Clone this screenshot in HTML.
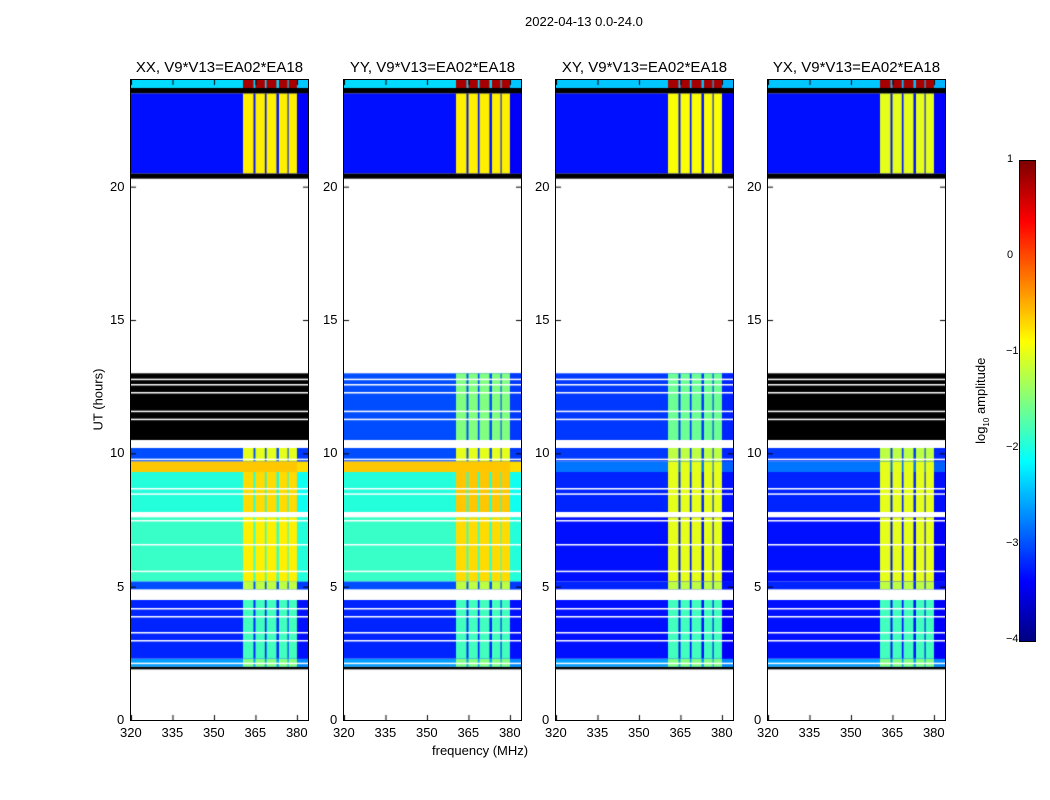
<!DOCTYPE html>
<html><head><meta charset="utf-8">
<style>
body{margin:0;background:#fff;width:1050px;height:800px;position:relative;overflow:hidden;font-family:"Liberation Sans","DejaVu Sans",sans-serif;}
.abs{position:absolute;}
canvas{position:absolute;}
.t{position:absolute;font-size:13px;color:#000;white-space:nowrap;}
.title{position:absolute;font-size:15px;white-space:nowrap;transform:translateX(-50%);}
</style></head><body>
<div class="t" style="left:525px;top:14px;">2022-04-13 0.0-24.0</div>
<div class="t" style="left:432px;top:743px;">frequency (MHz)</div>
<div class="t" style="left:60px;top:392px;transform:rotate(-90deg);transform-origin:center;width:76px;text-align:center;">UT (hours)</div>
<div id="root"></div>
<canvas id="cbar" width="15" height="480" style="left:1019px;top:160px;border:1px solid #000;"></canvas>
<div class="t" style="left:932px;top:392px;transform:rotate(-90deg);width:100px;text-align:center;">log<sub style="font-size:8px">10</sub> amplitude</div>
<script>
const panelTitles=["XX, V9*V13=EA02*EA18","YY, V9*V13=EA02*EA18","XY, V9*V13=EA02*EA18","YX, V9*V13=EA02*EA18"];
const panelLefts=[131,344,556,768];
const xTicks=[320,335,350,365,380];
const yTicks=[0,5,10,15,20];
const cbTicks=[1,0,-1,-2,-3,-4];
// time segments (hours)
const segStart=[1.9,2.0,2.3,4.5,4.9,5.2,7.6,7.8,9.3,9.7,10.2,10.5,13.0,20.3,20.5,23.5,23.7];
const segEnd  =[2.0,2.3,4.5,4.9,5.2,7.6,7.8,9.3,9.7,10.2,10.5,13.0,20.3,20.5,23.5,23.7,24.0];
// base values per panel (F = flagged black, null = no data)
const F=-99;
const baseXX=[F,-2.6,-3.2,null,-3.0,-1.85,null,-1.95,-0.6,-3.0,null,F,null,F,-3.3,F,-2.3];
const baseYY=[F,-2.6,-3.2,null,-3.0,-1.85,null,-1.95,-0.6,-3.0,null,-3.0,null,F,-3.3,F,-2.3];
const baseXY=[F,-2.6,-3.3,null,-3.2,-3.3,null,-3.2,-2.8,-3.1,null,-3.1,null,F,-3.3,F,-2.4];
const baseYX=[F,-2.6,-3.3,null,-3.2,-3.3,null,-3.2,-2.8,-3.1,null,F,null,F,-3.3,F,-2.4];
const rfiXX=[F,-1.5,-1.8,null,-1.2,-0.8,null,-0.7,-0.6,-1.0,null,F,null,F,-0.8,F,0.8];
const rfiYY=[F,-1.5,-1.8,null,-1.2,-0.7,null,-0.6,-0.6,-1.0,null,-1.5,null,F,-0.8,F,0.8];
const rfiXY=[F,-1.5,-1.8,null,-1.2,-1.0,null,-1.0,-1.0,-1.2,null,-1.6,null,F,-0.9,F,0.8];
const rfiYX=[F,-1.5,-1.8,null,-1.2,-1.0,null,-1.0,-1.0,-1.2,null,F,null,F,-1.0,F,0.8];
const baseVals=[baseXX,baseYY,baseXY,baseYX];
const rfiVals=[rfiXX,rfiYY,rfiXY,rfiYX];
// RFI frequency bands (MHz)
const bandStart=[360.5,365,369,373.5,377];
const bandEnd=[364.3,368.4,372.6,376.6,380];
// flagged (white) lines in hours
const whiteLines=[2.15,3.0,3.3,3.9,4.2,5.6,6.6,7.5,8.5,8.7,9.8,11.3,11.6,12.3,12.6,12.8,21.1,21.9,22.7,23.2,23.35];

function jet(v){let t=(v+4)/5;t=Math.max(0,Math.min(1,t));
 const r=Math.max(0,Math.min(1,1.5-Math.abs(4*t-3))),g=Math.max(0,Math.min(1,1.5-Math.abs(4*t-2))),b=Math.max(0,Math.min(1,1.5-Math.abs(4*t-1)));
 return `rgb(${Math.round(r*255)},${Math.round(g*255)},${Math.round(b*255)})`;}
const W=177,H=640,TOP=80;
const xs=f=>(f-320)/64*W, ys=h=>H-(h/24)*H;
const root=document.getElementById('root');
panelLefts.forEach((L,p)=>{
 const c=document.createElement('canvas');c.width=W;c.height=H;
 c.style.left=L+'px';c.style.top=TOP+'px';c.style.outline='1px solid #000';
 
 
 root.appendChild(c);
 const g=c.getContext('2d');g.fillStyle='#fff';g.fillRect(0,0,W,H);
 segStart.forEach((s,i)=>{
  const b=baseVals[p][i],r=rfiVals[p][i];if(b===null)return;
  const y0=ys(segEnd[i]),y1=ys(s),h=y1-y0;
  if(b===F){g.fillStyle='#000';g.fillRect(0,y0,W,h);return;}
  g.fillStyle=jet(b);g.fillRect(0,y0,W,h);
  g.fillStyle=jet(b-0.1);g.fillRect(xs(380),y0,W-xs(380),h);
  bandStart.forEach((bs,k)=>{g.fillStyle=jet(r);g.fillRect(xs(bs),y0,xs(bandEnd[k])-xs(bs),h);});
 });
 g.fillStyle='#fff';
 whiteLines.forEach(h=>{const y=ys(h);if(y<ys(20.3)||y>ys(1.9))return;g.fillRect(0,y,W,1.5);});
 g.fillStyle='#000';
 xTicks.forEach(f=>{g.fillRect(xs(f),H-5,1,5);g.fillRect(xs(f),0,1,5);});
 yTicks.forEach(h=>{g.fillRect(0,ys(h),5,1);g.fillRect(W-5,ys(h),5,1);});
 const t=document.createElement('div');t.className='title';t.textContent=panelTitles[p];
 t.style.left=(L+W/2)+'px';t.style.top='59px';
 
 
 root.appendChild(t);
 xTicks.forEach(f=>{const d=document.createElement('div');d.className='t';d.textContent=f;
  d.style.left=(L+xs(f)-11)+'px';d.style.top='725px';
  
  
  root.appendChild(d);});
 yTicks.forEach(h=>{const d=document.createElement('div');d.className='t';d.textContent=h;
  d.style.left=(L-6-(h>=10?15:8))+'px';d.style.top=(TOP+ys(h)-8)+'px';
  
  
  root.appendChild(d);});
});
const cb=document.getElementById('cbar').getContext('2d');
for(let y=0;y<480;y++){cb.fillStyle=jet(1-y/480*5);cb.fillRect(0,y,15,1);}
cbTicks.forEach(v=>{const y=160+(1-v)/5*480;
 const d=document.createElement('div');d.className='t';d.style.fontSize='11px';
 d.textContent=v<0?'\u2212'+(-v):v;d.style.left=(v<0?1006:1007)+'px';d.style.top=(y-7)+'px';
 
 
 root.appendChild(d);});
</script>
</body></html>
